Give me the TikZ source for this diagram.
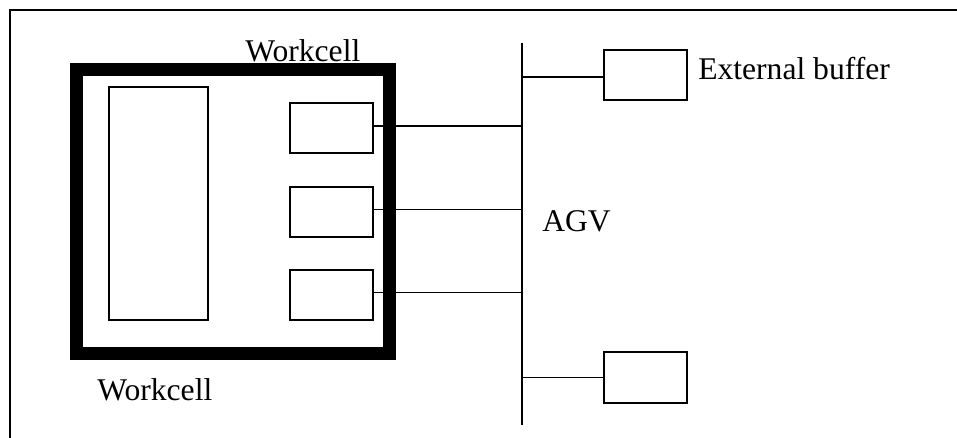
\documentclass[tikz,border=0pt]{standalone}
\usepackage{fontspec}
\setmainfont{Liberation Serif}
\begin{document}
\begin{tikzpicture}[x=0.75pt,y=-0.75pt,
  thin box/.style={draw,line width=1.5pt,inner sep=0pt,outer sep=0pt},
  conn/.style={line width=1.4pt},
  lbl/.style={inner sep=0pt,anchor=base west,font=\fontsize{23.7}{28}\selectfont}]
\useasboundingbox (0,0) rectangle (957,438);
% frame (top and left edges)
\coordinate (ftl) at (9.5,10);
\coordinate (ftr) at (957,10);
\coordinate (fbl) at (9.5,438);
\draw[line width=1.5pt] (fbl) -- (ftl) -- (ftr);
% workcell
\node[draw,line width=9.75pt,inner sep=0pt,outer sep=0pt,minimum width=235.1pt,minimum height=213pt] (cell) at (233.25,211.5) {};
\node[thin box,minimum width=74.25pt,minimum height=174.75pt] (tall) at (158.5,203.5) {};
\node[thin box,minimum width=62.25pt,minimum height=37.5pt] (s1) at (331.5,128.5) {};
\node[thin box,minimum width=62.25pt,minimum height=37.5pt] (s2) at (331.5,212) {};
\node[thin box,minimum width=62.25pt,minimum height=37.5pt] (s3) at (331.5,295) {};
% AGV line
\coordinate (agvtop) at (522,43);
\coordinate (agvbot) at (522,425);
\draw[conn] (agvtop) -- (agvbot);
% buffers
\node[thin box,minimum width=62.25pt,minimum height=37.5pt] (eb) at (645.5,75.5) {};
\node[thin box,minimum width=62.25pt,minimum height=37.5pt] (bb) at (645.5,377.5) {};
% connectors
\draw[conn] ([yshift=1.9pt]s1.east) -- ([yshift=1.9pt]s1.east -| agvtop);
\draw[conn] ([yshift=1.9pt]s2.east) -- ([yshift=1.9pt]s2.east -| agvtop);
\draw[conn] ([yshift=1.9pt]s3.east) -- ([yshift=1.9pt]s3.east -| agvtop);
\draw[conn] ([yshift=-1pt]eb.west -| agvtop) -- ([yshift=-1pt]eb.west);
\draw[conn] (bb.west -| agvtop) -- (bb.west);
% labels
\node[lbl] (wtop) at (245,61.7) {Workcell};
\node[lbl] (wbot) at (97,400) {Workcell};
\node[lbl] (agv) at (542,232) {AGV};
\node[lbl] (ebl) at (698,80) {External buffer};
\end{tikzpicture}
\end{document}
